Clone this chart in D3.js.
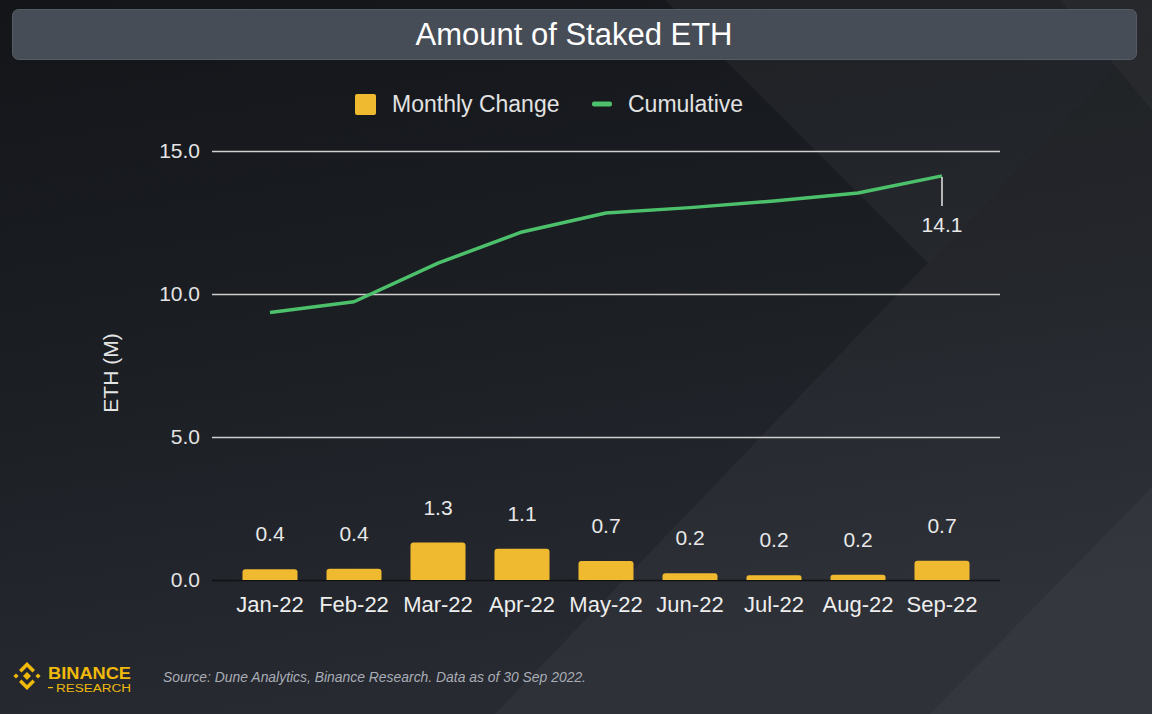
<!DOCTYPE html>
<html>
<head>
<meta charset="utf-8">
<script src="https://cdn.jsdelivr.net/npm/d3@7/dist/d3.min.js"></script>
<style>
  html, body { margin: 0; padding: 0; background: #16181c; }
  svg { display: block; }
</style>
</head>
<body>
<svg id="chart" width="1152" height="714"></svg>
<script>
// ---- data ----
const categories = ["Jan-22","Feb-22","Mar-22","Apr-22","May-22","Jun-22","Jul-22","Aug-22","Sep-22"];
const monthlyChange = [0.38, 0.39, 1.31, 1.09, 0.66, 0.24, 0.17, 0.18, 0.67];
const cumulative = [9.35, 9.73, 11.08, 12.17, 12.83, 13.02, 13.25, 13.53, 14.13];
const yTicks = [0, 5, 10, 15];
const titleText = "Amount of Staked ETH";
const legendLabels = ["Monthly Change", "Cumulative"];
const yAxisLabel = "ETH (M)";
const lastLabel = "14.1";
const sourceText = "Source: Dune Analytics, Binance Research. Data as of 30 Sep 2022.";

// ---- setup ----
const W = 1152, H = 714;
const svg = d3.select("#chart");
const defs = svg.append("defs");
const bg = defs.append("linearGradient").attr("id","bg").attr("x1",0).attr("y1",0).attr("x2",0.25).attr("y2",1);
bg.append("stop").attr("offset","0%").attr("stop-color","#131519");
bg.append("stop").attr("offset","55%").attr("stop-color","#1c1f24");
bg.append("stop").attr("offset","100%").attr("stop-color","#272a31");
svg.append("rect").attr("width",W).attr("height",H).attr("fill","url(#bg)");

// decorative diagonal facets
const deco = svg.append("g");
const facets = [
  {pts:[[665,0],[1180,0],[928,263]], o:0.045},
  {pts:[[495,714],[1152,29],[1152,714]], o:0.035},
  {pts:[[1152,487],[1152,714],[930,714]], o:0.03},
  {pts:[[1060,0],[1152,0],[1152,110]], o:0.03}
];
facets.forEach(f => {
  deco.append("polygon").attr("points", f.pts.map(p=>p.join(",")).join(" "))
    .attr("fill","#ffffff").attr("fill-opacity", f.o);
});

// ---- title bar ----
svg.append("rect").attr("x",12.5).attr("y",9.5).attr("width",1124).attr("height",50)
  .attr("rx",6).attr("fill","#474d57").attr("stroke","#565c66").attr("stroke-width",1);
svg.append("text").attr("x",574).attr("y",45).attr("text-anchor","middle")
  .attr("font-family","Liberation Sans, Arial, sans-serif").attr("font-size",31)
  .attr("fill","#ffffff").text(titleText);

// ---- scales ----
const x = d3.scaleBand().domain(categories).range([212, 1000]).paddingInner(0.345).paddingOuter(0.363);
const y = d3.scaleLinear().domain([0, 15]).range([580, 151]);
const fontFam = "Liberation Sans, Arial, sans-serif";

// ---- gridlines + y axis ----
const yAxis = d3.axisLeft(y).tickValues(yTicks).tickSize(-(1000-212)).tickPadding(12)
  .tickFormat(d3.format(".1f"));
const gy = svg.append("g").attr("transform","translate(212,0)").call(yAxis);
gy.select(".domain").remove();
gy.selectAll(".tick line").attr("stroke", d => d === 0 ? "#111214" : "#cfcfcf")
  .attr("stroke-width", 1.6);
gy.selectAll(".tick text").attr("font-family",fontFam).attr("font-size",21)
  .attr("fill","#e4e4e4");

// y axis label
svg.append("text").attr("transform","translate(118,373) rotate(-90)")
  .attr("text-anchor","middle").attr("font-family",fontFam).attr("font-size",21)
  .attr("fill","#e4e4e4").text(yAxisLabel);

// ---- x axis ----
const xAxis = d3.axisBottom(x).tickSize(0).tickPadding(16);
const gx = svg.append("g").attr("transform","translate(0,580)").call(xAxis);
gx.select(".domain").remove();
gx.selectAll(".tick text").attr("font-family",fontFam).attr("font-size",22)
  .attr("fill","#eeeeee");

// ---- bars ----
const barData = categories.map((c,i)=>({c, v: monthlyChange[i]}));
svg.append("g").selectAll("path").data(barData).join("path")
  .attr("d", d => {
    const x0 = x(d.c), w = x.bandwidth(), y0 = y(d.v), y1 = y(0), r = Math.min(3, (y1-y0)/2);
    return `M${x0},${y1} L${x0},${y0+r} Q${x0},${y0} ${x0+r},${y0} L${x0+w-r},${y0} Q${x0+w},${y0} ${x0+w},${y0+r} L${x0+w},${y1} Z`;
  })
  .attr("fill","#efb930");

svg.append("g").selectAll("text").data(barData).join("text")
  .attr("x", d => x(d.c) + x.bandwidth()/2)
  .attr("y", d => y(d.v) - 28)
  .attr("text-anchor","middle").attr("font-family",fontFam).attr("font-size",21)
  .attr("fill","#e8e8e8").text(d => d3.format(".1f")(d.v));

// ---- line ----
const lineData = categories.map((c,i)=>({c, v: cumulative[i]}));
const line = d3.line().x(d => x(d.c) + x.bandwidth()/2).y(d => y(d.v));
svg.append("path").datum(lineData).attr("d", line).attr("fill","none")
  .attr("stroke","#4cc06b").attr("stroke-width",3.5).attr("stroke-linejoin","round");

// last point label with leader
const last = lineData[lineData.length-1];
const lx = x(last.c) + x.bandwidth()/2;
svg.append("line").attr("x1",lx).attr("x2",lx).attr("y1",y(last.v)+1).attr("y2",y(last.v)+30)
  .attr("stroke","#e8e8e8").attr("stroke-width",1.5);
svg.append("text").attr("x",lx).attr("y",y(last.v)+56).attr("text-anchor","middle")
  .attr("font-family",fontFam).attr("font-size",21).attr("fill","#e8e8e8").text(lastLabel);

// ---- legend ----
const lg = svg.append("g");
lg.append("rect").attr("x",355).attr("y",94).attr("width",21).attr("height",21).attr("rx",2)
  .attr("fill","#efb930");
lg.append("text").attr("x",392).attr("y",112).attr("font-family",fontFam).attr("font-size",23)
  .attr("fill","#e2e2e2").text(legendLabels[0]);
lg.append("rect").attr("x",592).attr("y",101.5).attr("width",20).attr("height",5).attr("rx",2)
  .attr("fill","#4cc06b");
lg.append("text").attr("x",628).attr("y",112).attr("font-family",fontFam).attr("font-size",23)
  .attr("fill","#e2e2e2").text(legendLabels[1]);

// ---- footer: logo + source ----
const logo = svg.append("g").attr("fill","#f0b90b");
const cx = 27, cy = 676;
const dia = (px,py,s) => `M${px},${py-s} L${px+s},${py} L${px},${py+s} L${px-s},${py} Z`;
logo.append("path").attr("d", dia(cx,cy,4));
logo.append("path").attr("d", dia(cx-11,cy,2.6));
logo.append("path").attr("d", dia(cx+11,cy,2.6));
logo.append("path").attr("d", `M${cx-8},${cy-6} L${cx},${cy-14} L${cx+8},${cy-6} L${cx+5.5},${cy-3.5} L${cx},${cy-9} L${cx-5.5},${cy-3.5} Z`);
logo.append("path").attr("d", `M${cx-8},${cy+6} L${cx},${cy+14} L${cx+8},${cy+6} L${cx+5.5},${cy+3.5} L${cx},${cy+9} L${cx-5.5},${cy+3.5} Z`);
svg.append("text").attr("x",48).attr("y",679).attr("font-family",fontFam).attr("font-size",16)
  .attr("font-weight","bold").attr("fill","#f0b90b").attr("textLength",83).attr("lengthAdjust","spacingAndGlyphs")
  .text("BINANCE");
svg.append("rect").attr("x",48).attr("y",687).attr("width",5).attr("height",1.2).attr("fill","#f0b90b");
svg.append("text").attr("x",56).attr("y",692).attr("font-family",fontFam).attr("font-size",10)
  .attr("fill","#f0b90b").attr("textLength",75).attr("lengthAdjust","spacingAndGlyphs")
  .text("RESEARCH");
svg.append("text").attr("x",163).attr("y",682).attr("font-family",fontFam).attr("font-size",14)
  .attr("font-style","italic").attr("fill","#a9adb5").attr("textLength",423).attr("lengthAdjust","spacingAndGlyphs")
  .text(sourceText);
</script>
</body>
</html>
